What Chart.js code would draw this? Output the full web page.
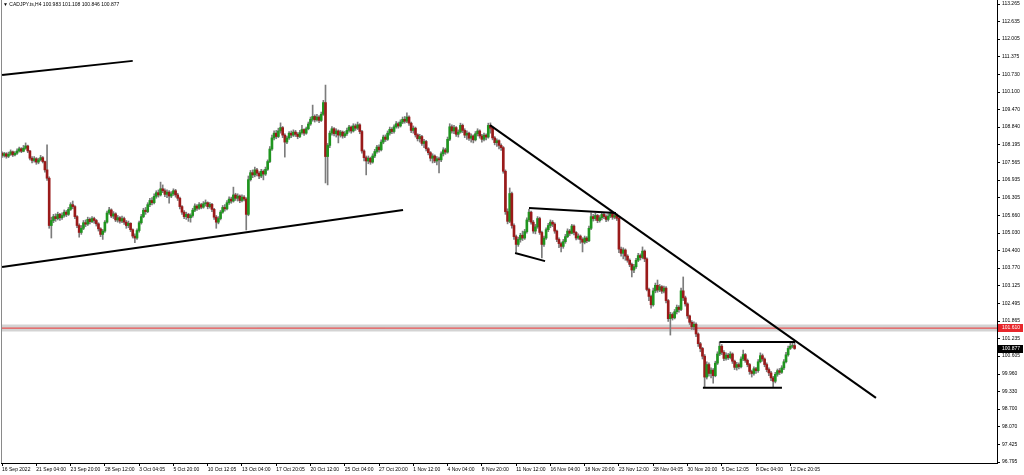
<!DOCTYPE html>
<html>
<head>
<meta charset="utf-8">
<script src="https://cdn.jsdelivr.net/npm/chart.js@4/dist/chart.umd.min.js"></script>
<style>
  html, body { margin: 0; padding: 0; background: #fff; overflow: hidden; }
  #wrap { position: relative; width: 1024px; height: 475px; }
  #hdr { position: absolute; left: 3px; top: 1px; font: 5px "Liberation Sans", Arial, sans-serif; color: #000; white-space: nowrap; }
</style>
</head>
<body>
<div id="wrap">
  <canvas id="c" width="1024" height="475"></canvas>
  <div id="hdr"></div>
</div>
<script>
// CADJPY H4 candles, 16 Sep 2022 – 13 Dec 2022
const symbolName = 'CADJPY.ts,H4';

const tickLabels = ['16 Sep 2022','21 Sep 04:00','23 Sep 20:00','28 Sep 12:00','3 Oct 04:05','5 Oct 20:00',
  '10 Oct 12:05','13 Oct 04:00','17 Oct 20:05','20 Oct 12:00','25 Oct 04:00','27 Oct 20:00','1 Nov 12:00',
  '4 Nov 04:00','8 Nov 20:00','11 Nov 12:00','16 Nov 04:00','18 Nov 20:00','23 Nov 12:00','28 Nov 04:05',
  '30 Nov 20:00','5 Dec 12:05','8 Dec 04:00','12 Dec 20:05'];
const barsPerTick = 16;

const priceTicks = [113.265,112.635,112.005,111.375,110.730,110.100,109.470,108.840,108.195,107.565,106.935,
  106.305,105.660,105.030,104.400,103.770,103.125,102.495,101.865,101.235,100.605,99.960,99.330,98.700,
  98.070,97.425,96.795];

const firstOpen = 107.90;

const closes = [
  107.82,107.88,107.79,107.86,107.95,107.84,107.90,107.98,108.06,107.97,
  108.08,108.16,107.98,107.72,107.64,107.70,107.58,107.66,107.74,107.60,
  107.30,107.00,105.30,105.48,105.62,105.55,105.70,105.58,105.66,105.78,
  105.70,105.88,106.05,105.98,105.62,105.30,105.05,105.20,105.40,105.35,
  105.52,105.44,105.55,105.48,105.36,105.18,104.98,105.10,105.42,105.75,
  105.86,105.64,105.72,105.50,105.58,105.46,105.55,105.42,105.30,105.38,
  105.15,104.92,104.85,105.12,105.40,105.62,105.85,105.80,106.05,106.20,
  106.12,106.35,106.48,106.40,106.62,106.55,106.42,106.50,106.36,106.44,
  106.55,106.40,106.28,105.98,105.78,105.62,105.70,105.58,105.66,105.85,
  106.00,105.92,106.05,105.96,106.08,106.12,105.98,106.06,105.88,105.60,
  105.42,105.55,105.78,105.95,105.90,106.12,106.25,106.18,106.40,106.28,
  106.36,106.20,106.32,106.25,105.70,106.95,107.20,107.12,107.30,107.18,
  107.08,107.25,107.15,107.32,107.60,108.05,108.45,108.62,108.50,108.70,
  108.82,108.55,108.30,108.45,108.62,108.55,108.66,108.58,108.50,108.64,
  108.75,108.62,108.78,108.95,109.12,109.22,109.10,109.20,109.08,109.30,
  109.72,107.78,108.18,108.62,108.78,108.60,108.70,108.55,108.66,108.52,
  108.60,108.72,108.84,108.70,108.88,108.80,108.92,108.68,107.98,107.74,
  107.62,107.72,107.58,107.80,107.96,108.12,108.02,108.30,108.48,108.40,
  108.62,108.76,108.68,108.85,108.96,108.88,109.02,109.12,109.05,109.20,
  108.98,108.72,108.80,108.56,108.42,108.50,108.25,108.32,108.06,107.92,
  107.72,107.80,107.62,107.70,107.66,107.88,108.02,107.94,108.40,108.85,
  108.70,108.82,108.58,108.66,108.90,108.72,108.55,108.62,108.44,108.52,
  108.38,108.60,108.70,108.52,108.40,108.55,108.48,108.90,108.80,108.45,
  108.28,108.35,108.18,108.10,107.25,105.80,105.45,106.45,105.30,104.90,
  104.62,104.80,104.95,104.85,105.08,105.50,105.78,105.42,105.10,105.25,
  105.55,105.05,104.62,104.85,105.15,105.30,105.42,105.35,105.10,104.80,
  104.65,104.55,104.72,104.90,105.10,105.02,105.28,105.05,104.85,104.92,
  104.80,104.70,104.85,104.75,105.20,105.62,105.55,105.66,105.48,105.58,
  105.70,105.62,105.52,105.64,105.72,105.60,105.66,105.56,104.45,104.30,
  104.42,104.20,104.05,103.90,103.70,103.82,104.05,104.22,104.15,104.38,
  104.10,103.00,102.75,102.45,102.95,103.15,102.98,103.10,102.94,103.05,
  102.60,101.95,102.10,101.98,102.20,102.36,102.28,102.95,102.70,102.48,
  102.05,101.82,101.66,101.75,101.40,101.05,100.88,100.60,99.85,100.30,
  99.98,100.10,99.90,100.35,100.68,100.96,100.74,100.52,100.64,100.55,
  100.68,100.42,100.20,100.30,100.22,100.50,100.66,100.45,100.30,100.05,
  99.98,100.15,100.08,100.40,100.62,100.50,100.30,100.12,100.00,99.82,
  99.70,99.95,100.08,100.02,100.18,100.40,100.65,100.88,100.96,100.983,
  100.877
];

const highs = [
  107.95,107.93,107.92,107.94,108.02,107.98,107.96,108.06,108.12,108.10,
  108.18,108.27,108.19,108.00,107.78,107.78,107.74,107.72,107.82,107.78,
  107.62,108.20,107.05,105.60,105.70,105.72,105.78,105.74,105.76,105.86,
  105.84,105.95,106.12,106.18,106.02,105.66,105.36,105.30,105.48,105.50,
  105.60,105.58,105.62,105.60,105.52,105.40,105.22,105.16,105.48,105.82,
  105.95,105.90,105.80,105.76,105.66,105.62,105.64,105.60,105.48,105.46,
  105.40,105.18,105.00,105.18,105.46,105.70,105.92,105.95,106.12,106.28,
  106.30,106.44,106.55,106.58,106.86,106.76,106.62,106.58,106.56,106.52,
  106.62,106.60,106.46,106.32,106.02,105.84,105.78,105.74,105.72,105.92,
  106.08,106.05,106.12,106.10,106.16,106.22,106.15,106.12,106.10,105.92,
  105.66,105.62,105.84,106.02,106.05,106.20,106.33,106.32,106.68,106.46,
  106.44,106.40,106.40,106.38,106.30,107.08,107.28,107.30,107.40,107.36,
  107.24,107.32,107.30,107.40,107.66,108.14,108.55,108.70,108.72,108.80,
  108.99,108.86,108.60,108.52,108.68,108.70,108.74,108.72,108.64,108.72,
  108.90,108.78,108.84,109.02,109.20,109.63,109.28,109.30,109.25,109.38,
  109.80,110.35,108.25,108.70,108.86,108.82,108.78,108.74,108.72,108.70,
  108.68,108.80,108.90,108.88,108.96,108.95,109.02,108.96,108.72,108.02,
  107.80,107.80,107.76,107.88,108.04,108.18,108.20,108.38,108.55,108.56,
  108.70,108.84,108.82,108.92,109.04,109.02,109.10,109.20,109.22,109.35,
  109.24,109.02,108.88,108.84,108.60,108.58,108.54,108.40,108.36,108.10,
  107.96,107.88,107.84,107.78,107.76,107.95,108.10,108.08,108.48,108.96,
  108.92,108.90,108.86,108.74,108.98,108.95,108.78,108.70,108.66,108.60,
  108.56,108.68,108.78,108.74,108.58,108.62,108.60,108.98,108.99,108.84,
  108.50,108.42,108.38,108.24,108.14,107.30,105.90,106.65,106.50,105.36,
  104.96,104.88,105.02,105.10,105.16,105.58,105.88,105.82,105.48,105.34,
  105.62,105.60,105.10,104.92,105.22,105.38,105.50,105.48,105.40,105.14,
  104.86,104.70,104.80,104.98,105.18,105.16,105.34,105.32,105.08,105.00,
  104.96,104.86,104.92,104.90,105.28,105.76,105.70,105.74,105.70,105.66,
  105.78,105.76,105.68,105.72,105.80,105.76,105.74,105.72,105.60,104.52,
  104.50,104.46,104.25,104.10,103.95,103.90,104.12,104.30,104.28,104.53,
  104.42,104.14,103.05,102.80,103.05,103.23,103.34,103.18,103.14,103.12,
  103.10,102.64,102.18,102.16,102.28,102.44,102.42,103.05,103.45,102.76,
  102.52,102.08,101.88,101.84,101.80,101.44,101.10,100.92,100.66,100.40,
  100.36,100.18,100.16,100.42,100.76,101.11,101.02,100.80,100.72,100.70,
  100.76,100.72,100.46,100.38,100.36,100.58,100.82,100.70,100.50,100.34,
  100.10,100.22,100.20,100.48,100.72,100.68,100.54,100.36,100.18,100.06,
  99.88,100.02,100.14,100.16,100.26,100.48,100.74,100.96,101.10,101.08,
  101.108
];

const lows = [
  107.75,107.76,107.72,107.74,107.82,107.78,107.80,107.86,107.94,107.92,
  107.95,108.04,107.92,107.66,107.55,107.58,107.50,107.52,107.62,107.55,
  107.22,106.92,105.20,104.85,105.40,105.45,105.50,105.48,105.52,105.60,
  105.62,105.66,105.84,105.90,105.55,105.22,104.88,104.98,105.15,105.26,
  105.30,105.36,105.40,105.38,105.28,105.10,104.90,104.80,105.05,105.38,
  105.70,105.58,105.55,105.44,105.42,105.38,105.40,105.34,105.20,105.22,
  105.08,104.85,104.68,104.80,105.06,105.35,105.58,105.70,105.76,105.98,
  106.04,106.08,106.28,106.32,106.36,106.48,106.34,106.30,106.10,106.30,
  106.38,106.32,106.20,105.90,105.70,105.55,105.52,105.45,105.42,105.60,
  105.80,105.84,105.88,105.90,105.92,106.00,105.90,105.92,105.80,105.52,
  105.20,105.36,105.50,105.74,105.82,105.86,106.06,106.10,106.14,106.20,
  106.18,106.12,106.15,106.18,105.14,105.65,106.90,107.02,107.05,107.08,
  106.98,107.02,106.94,107.10,107.28,107.56,108.00,108.38,108.42,108.46,
  108.62,108.46,107.76,108.24,108.40,108.46,108.50,108.50,108.42,108.46,
  108.58,108.54,108.58,108.74,108.90,109.05,109.02,109.05,109.00,109.04,
  109.26,106.83,106.76,108.10,108.55,108.52,108.48,108.27,108.48,108.44,
  108.46,108.54,108.66,108.62,108.66,108.72,108.75,108.60,107.90,107.62,
  107.12,107.52,107.50,107.54,107.74,107.90,107.94,107.98,108.24,108.32,
  108.36,108.55,108.60,108.62,108.80,108.80,108.84,108.96,108.98,109.00,
  108.90,108.64,108.62,108.48,108.34,108.30,108.18,108.10,107.98,107.84,
  107.62,107.55,107.56,107.48,107.19,107.60,107.80,107.86,107.90,108.35,
  108.62,108.60,108.50,108.48,108.62,108.64,108.46,108.40,108.36,108.30,
  108.27,108.34,108.52,108.44,108.30,108.34,108.38,108.44,108.62,108.38,
  108.20,108.14,108.05,108.00,107.18,105.70,105.36,105.40,105.20,104.80,
  104.35,104.55,104.70,104.76,104.80,105.02,105.44,105.35,105.02,105.00,
  105.20,104.98,104.13,104.55,104.80,105.08,105.22,105.26,105.02,104.72,
  104.50,104.35,104.48,104.66,104.86,104.94,105.00,104.96,104.78,104.80,
  104.66,104.35,104.64,104.68,104.72,105.15,105.46,105.48,105.40,105.42,
  105.50,105.55,105.44,105.46,105.58,105.52,105.54,105.48,104.32,104.20,
  104.10,104.05,103.98,103.82,103.45,103.60,103.76,104.00,104.06,104.10,
  104.00,102.95,102.60,102.33,102.40,102.88,102.90,102.92,102.86,102.88,
  102.52,101.85,101.36,101.90,101.94,102.12,102.18,102.24,102.60,102.40,
  101.96,101.74,101.56,101.55,101.30,100.95,100.76,100.50,99.49,99.78,
  99.88,99.82,99.63,99.86,100.30,100.62,100.66,100.44,100.46,100.48,
  100.50,100.34,100.12,100.10,100.14,100.18,100.44,100.38,100.22,99.95,
  99.85,99.92,99.98,100.02,100.36,100.42,100.22,100.04,99.90,99.72,
  99.49,99.64,99.88,99.94,99.98,100.12,100.36,100.60,100.84,100.90,
  100.846
];

// Horizontal level and hand-drawn trendlines as [barIndex, price] end points
const levelPrice = 101.610;
const trendUpper   = [[0, 110.71], [61, 111.22]];
const trendSupport = [[0, 103.81], [187.2, 105.86]];
const trendDown    = [[227.8, 108.91], [408, 99.10]];
const flagTop      = [[246, 105.93], [286.6, 105.75]];
const flagBottom   = [[239.5, 104.31], [253.5, 104.02]];
const rangeTop     = [[335, 101.11], [370.2, 101.11]];
const rangeBottom  = [[327.2, 99.47], [364.1, 99.47]];

const UP = '#1f951f';
const DOWN = '#9a1a1a';
const WICK = '#7c7c7c';
const FONT = '"Liberation Sans", Arial, sans-serif';

const opens = closes.map((c, i) => i === 0 ? firstOpen : closes[i - 1]);
const last = closes.length - 1;

document.getElementById('hdr').textContent = '\u25BC ' + symbolName + '  ' +
  [opens[last], highs[last], lows[last], closes[last]].map(v => v.toFixed(3)).join(' ');

const pts = arr => arr.map(([x, y]) => ({ x, y }));
const trend = (arr) => ({
  type: 'line', data: pts(arr), borderColor: '#000', borderWidth: 2,
  pointRadius: 0, fill: false, tension: 0, order: 0
});

const priceTags = [
  { value: levelPrice, bg: '#e8262b', fg: '#fff' },
  { value: closes[last], bg: '#000', fg: '#fff' }
];

const overlay = {
  id: 'overlay',
  afterDraw(chart) {
    const { ctx, chartArea, scales } = chart;
    ctx.save();
    ctx.strokeStyle = '#8a8a8a';
    ctx.lineWidth = 1;
    ctx.beginPath();
    ctx.moveTo(chartArea.left + 0.5, chartArea.top);
    ctx.lineTo(chartArea.left + 0.5, chartArea.bottom);
    ctx.stroke();
    ctx.font = '5px ' + FONT;
    ctx.textBaseline = 'middle';
    ctx.textAlign = 'left';
    priceTags.forEach(t => {
      const py = Math.round(scales.y.getPixelForValue(t.value));
      ctx.fillStyle = t.bg;
      ctx.fillRect(chartArea.right + 1, py - 4, 25, 8);
      ctx.fillStyle = t.fg;
      ctx.fillText(t.value.toFixed(3), chartArea.right + 5, py);
    });
    ctx.restore();
  }
};

new Chart(document.getElementById('c'), {
  type: 'bar',
  data: {
    datasets: [
      {
        type: 'line', data: pts([[-0.5, levelPrice], [464.5, levelPrice]]),
        borderColor: 'rgba(175,175,175,0.55)', borderWidth: 7, pointRadius: 0, order: 5
      },
      {
        type: 'line', data: pts([[-0.5, levelPrice], [464.5, levelPrice]]),
        borderColor: '#ee3434', borderWidth: 1, pointRadius: 0, order: 4
      },
      {
        data: closes.map((c, i) => ({ x: i, y: [lows[i], highs[i]] })),
        backgroundColor: WICK, grouped: false, maxBarThickness: 1,
        barPercentage: 1, categoryPercentage: 1, order: 3
      },
      {
        data: closes.map((c, i) => ({ x: i, y: [opens[i], c] })),
        backgroundColor: closes.map((c, i) => c >= opens[i] ? UP : DOWN),
        grouped: false, maxBarThickness: 2, barPercentage: 1, categoryPercentage: 1, order: 2
      },
      trend(trendUpper),
      trend(trendSupport),
      trend(trendDown),
      trend(flagTop),
      trend(flagBottom),
      trend(rangeTop),
      trend(rangeBottom)
    ]
  },
  options: {
    responsive: false,
    animation: false,
    devicePixelRatio: 1,
    layout: { padding: { left: 1, right: 0, top: 0, bottom: 0 } },
    plugins: { legend: { display: false }, tooltip: { enabled: false } },
    scales: {
      x: {
        type: 'linear', min: -0.5, max: 464.5, offset: false,
        grid: { offset: false, drawOnChartArea: false, drawTicks: true, tickLength: 3, color: '#000' },
        border: { display: true, color: '#000' },
        ticks: {
          autoSkip: false, maxRotation: 0, align: 'start', padding: 1,
          font: { family: FONT, size: 5 }, color: '#000',
          callback: (v, i) => tickLabels[i]
        },
        afterBuildTicks: s => { s.ticks = tickLabels.map((_, k) => ({ value: k * barsPerTick })); },
        afterFit: s => { s.height = 12; s.paddingLeft = 0; s.paddingRight = 0; }
      },
      y: {
        position: 'right', min: 96.760, max: 113.409,
        grid: { drawOnChartArea: false, drawTicks: true, tickLength: 3, color: '#000' },
        border: { display: true, color: '#000' },
        ticks: {
          autoSkip: false, crossAlign: 'near', padding: 2,
          font: { family: FONT, size: 5 }, color: '#000',
          callback: v => Number(v).toFixed(3)
        },
        afterBuildTicks: s => { s.ticks = priceTicks.map(v => ({ value: v })); },
        afterFit: s => { s.width = 27; s.paddingTop = 0; s.paddingBottom = 0; }
      }
    }
  },
  plugins: [overlay]
});
</script>
</body>
</html>
